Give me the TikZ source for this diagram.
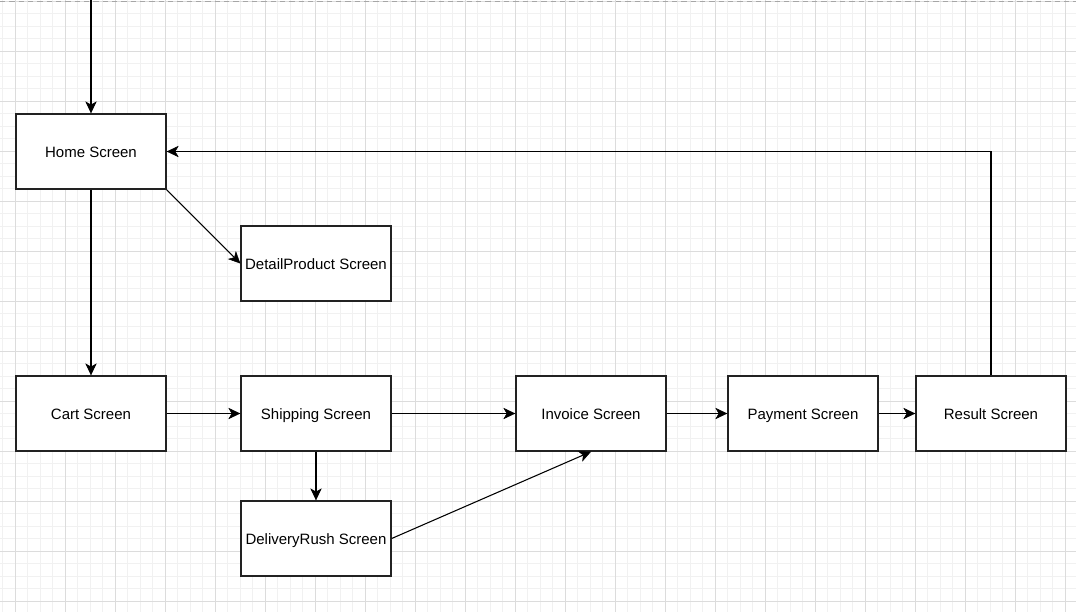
\documentclass[tikz,border=0pt]{standalone}
\usepackage{fontspec}
\setmainfont{Liberation Sans}
\usetikzlibrary{arrows.meta}
\definecolor{gridminor}{HTML}{F1F1F1}
\definecolor{gridmajor}{HTML}{DCDCDC}
\definecolor{boxline}{HTML}{222222}
\tikzset{
  screen/.style={draw=boxline, line width=1pt, fill=white, minimum width=112.5pt,
    minimum height=56.25pt, inner sep=0pt, text height=9.5pt, text depth=0.5pt,
    font=\fontsize{11.25}{13}\selectfont},
  flow/.style={draw=black, line width=0.8pt,
    -{Stealth[length=9pt, width=8.5pt, inset=2.5pt, line width=0.4pt]}},
}
\begin{document}
\begin{tikzpicture}[x=0.75pt, y=-0.75pt]
  \useasboundingbox (0,0) rectangle (1076,612);
  % background grid
  \fill[white] (0,0) rectangle (1076,612);
  \foreach \i in {0,...,86} {
    \draw[gridminor, line width=0.75pt] (2.5+12.5*\i,0) -- (2.5+12.5*\i,612);
  }
  \foreach \i in {0,...,49} {
    \draw[gridminor, line width=0.75pt] (0,1.3+12.5*\i) -- (1076,1.3+12.5*\i);
  }
  \foreach \i in {0,...,21} {
    \draw[gridmajor, line width=0.75pt] (15+50*\i,0) -- (15+50*\i,612);
  }
  \foreach \i in {0,...,12} {
    \draw[gridmajor, line width=0.75pt] (0,1.3+50*\i) -- (1076,1.3+50*\i);
  }
  \draw[gray!70, line width=0.75pt, dash pattern=on 4pt off 3pt] (0,1) -- (1076,1);

  % screens
  \node[screen] (home)     at (91,151.5)  {Home Screen};
  \node[screen] (detail)   at (316,263.5) {DetailProduct Screen};
  \node[screen] (cart)     at (91,413.5)  {Cart Screen};
  \node[screen] (shipping) at (316,413.5) {Shipping Screen};
  \node[screen] (invoice)  at (591,413.5) {Invoice Screen};
  \node[screen] (payment)  at (803,413.5) {Payment Screen};
  \node[screen] (result)   at (991,413.5) {Result Screen};
  \node[screen] (rush)     at (316,538.5) {DeliveryRush Screen};

  \coordinate (start) at (91,0);

  % transitions
  \draw[flow] (start) -- (home.north);
  \draw[flow] (home.south) -- (cart.north);
  \draw[flow] (home.south east) -- (detail.west);
  \draw[flow] (cart.east) -- (shipping.west);
  \draw[flow] (shipping.east) -- (invoice.west);
  \draw[flow] (invoice.east) -- (payment.west);
  \draw[flow] (payment.east) -- (result.west);
  \draw[flow] (shipping.south) -- (rush.north);
  \draw[flow] (rush.east) -- (invoice.south);
  \draw[flow] (result.north) |- (home.east);
\end{tikzpicture}
\end{document}
